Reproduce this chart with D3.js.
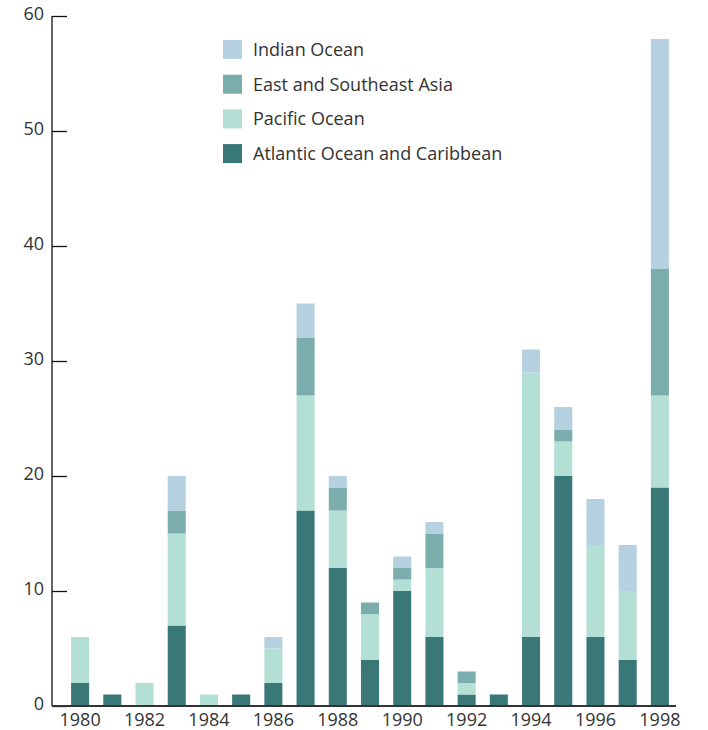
<!DOCTYPE html>
<html><head><meta charset="utf-8">
<script src="https://cdn.jsdelivr.net/npm/d3@7"></script>
<style>body{margin:0;background:#fff;}svg{display:block;font-family:"Open Sans","Noto Sans",sans-serif;}</style>
</head><body>
<svg id="c" width="708" height="730"></svg>
<script>
const years = [1980,1981,1982,1983,1984,1985,1986,1987,1988,1989,1990,1991,1992,1993,1994,1995,1996,1997,1998];
const atlantic = [2,1,0,7,0,1,2,17,12,4,10,6,1,1,6,20,6,4,19];
const pacific  = [4,0,2,8,1,0,3,10,5,4,1,6,1,0,23,3,8,6,8];
const eastAsia = [0,0,0,2,0,0,0,5,2,1,1,3,1,0,0,1,0,0,11];
const indian   = [0,0,0,3,0,0,1,3,1,0,1,1,0,0,2,2,4,4,20];
const seriesNames = ["Atlantic Ocean and Caribbean","Pacific Ocean","East and Southeast Asia","Indian Ocean"];
const seriesKeys = ["atlantic","pacific","eastAsia","indian"];
const colors = ["#3a7878","#b3dfd4","#7aadab","#b5d1df"];
const xTickLabels = [1980,1982,1984,1986,1988,1990,1992,1994,1996,1998];
const yTicks = [0,10,20,30,40,50,60];

const rows = years.map((y,i)=>({year:y, atlantic:atlantic[i], pacific:pacific[i], eastAsia:eastAsia[i], indian:indian[i]}));
const stack = d3.stack().keys(seriesKeys)(rows);

const svg = d3.select("#c");
const x = d3.scaleBand().domain(years).range([64,676]).paddingInner(0.44).paddingOuter(0.22);
const y = d3.scaleLinear().domain([0,60]).range([706,16]);

// bars
svg.append("g").selectAll("g").data(stack).join("g")
  .attr("fill",(d,i)=>colors[i])
  .selectAll("rect").data(d=>d.filter(p=>p[1]-p[0]>0)).join("rect")
  .attr("x",d=>x(d.data.year)).attr("width",x.bandwidth())
  .attr("y",d=>y(d[1])).attr("height",d=>y(d[0])-y(d[1]));

// y axis
const ya = svg.append("g").attr("transform","translate(52,0)")
  .call(d3.axisRight(y).tickValues(yTicks).tickSize(15).tickFormat(""));
ya.select(".domain").attr("d","M0,16V706").attr("stroke","#111").attr("stroke-width",1.3);
ya.selectAll(".tick line").attr("stroke","#111").attr("stroke-width",1.3);
svg.append("g").selectAll("text").data(yTicks).join("text")
  .attr("x",44).attr("y",d=>y(d)).attr("dy","0.2em")
  .attr("text-anchor","end").attr("fill","#333").attr("font-size",18).text(d=>d);

// x axis
const xa = svg.append("g").attr("transform","translate(0,706)")
  .call(d3.axisBottom(x).tickValues(xTickLabels).tickSize(0).tickPadding(7));
xa.select(".domain").attr("d","M52,0H676").attr("stroke","#333").attr("stroke-width",2);
xa.selectAll("text").attr("font-size",18).attr("fill","#333").attr("font-family","'Open Sans','Noto Sans',sans-serif");

// legend
const legOrder = [3,2,1,0];
const lg = svg.append("g").selectAll("g").data(legOrder).join("g")
  .attr("transform",(d,i)=>`translate(223,${40+i*34.7})`);
lg.append("rect").attr("width",19).attr("height",19).attr("fill",d=>colors[d]);
lg.append("text").attr("x",30).attr("y",9.5).attr("dy","0.35em").attr("font-size",18).attr("fill","#333").text(d=>seriesNames[d]);
</script>
</body></html>
